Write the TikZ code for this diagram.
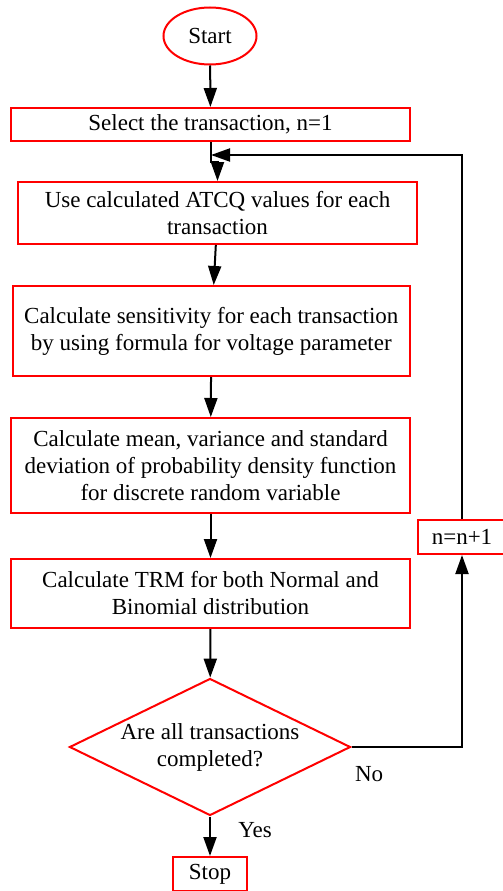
\documentclass[tikz,border=0pt]{standalone}
\usepackage{fontspec}
\setmainfont{Liberation Serif}
\usepackage{tikz}
\usetikzlibrary{shapes.geometric,arrows.meta}

\begin{document}
\begin{tikzpicture}[x=1pt,y=-1pt,
		font=\fontsize{23}{27}\selectfont,
		proc/.style={draw=red,line width=2pt,rectangle,align=center,inner sep=0pt},
		term/.style={draw=red,line width=2pt,ellipse,inner sep=0pt,minimum width=93pt,minimum height=57pt},
		decide/.style={draw=red,line width=2pt,diamond,shape aspect=2.05,align=center,inner sep=0pt,minimum width=281pt,minimum height=137pt}]
		\useasboundingbox (0,0) rectangle (503,891);
		\node[term] (start) at (210,36) {Start};
		\node[proc,minimum width=399pt,minimum height=33pt] (sel) at (210.5,124.5) {Select the transaction, n=1};
		\node[proc,minimum width=399pt,minimum height=62pt] (use) at (217.5,213) {Use calculated ATCQ values for each\\transaction};
		\node[proc,minimum width=397pt,minimum height=90pt] (sens) at (211.3,331) {Calculate sensitivity for each transaction\\by using formula for voltage parameter};
		\node[proc,minimum width=399pt,minimum height=95pt] (mean) at (210.5,465.5) {Calculate mean, variance and standard\\deviation of probability density function\\for discrete random variable};
		\node[proc,minimum width=399pt,minimum height=69pt] (trm) at (210.5,593.5) {Calculate TRM for both Normal and\\Binomial distribution};
		\node[decide] (dec) at (210,747) {Are all transactions\\completed?};
		\node[proc,minimum width=74pt,minimum height=34pt] (stop) at (210,874) {Stop};
		\node[proc,minimum width=88pt,minimum height=34pt] (inc) at (462,537) {n=n+1};
		\coordinate (back) at (211,155);
		%
		\path[->,line width=2pt,>={Triangle[length=19pt,width=13pt]}]
		% vertical arrows
		(start) edge (sel)
		(use) edge (sens)
		(sens) edge (mean)
		(mean) edge (trm)
		(trm) edge (dec)
		(dec) edge node[pos=0.35,right=24pt]{Yes} (stop);
		% loop back
		\draw[->,line width=2pt,>={Triangle[length=19pt,width=13pt]}]
		(sel.south) -- ++(0,20) -| (use.north);
		\draw[->,line width=2pt,>={Triangle[length=19pt,width=13pt]}]
		(dec.east) -| node[pos=0.08,below=15pt]{No} (inc.south);
		\draw[->,line width=2pt,>={Triangle[length=19pt,width=13pt]}]
		(inc.north) |- (back);
	\end{tikzpicture}
\end{document}
